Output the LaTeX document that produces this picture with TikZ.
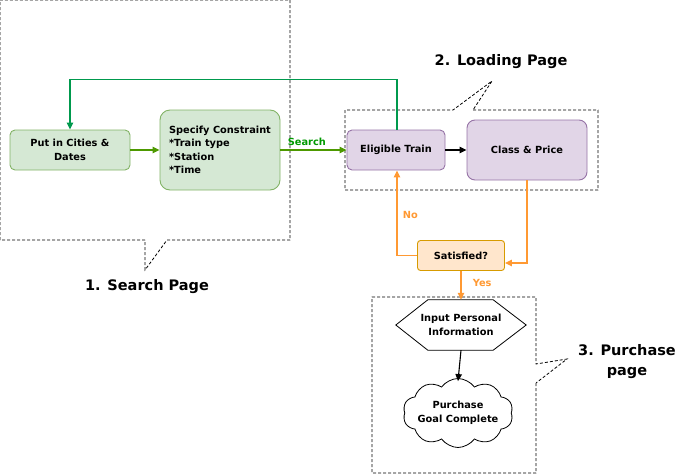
\documentclass[tikz,border=0pt]{standalone}
\usepackage{fontspec}
\setmainfont{DejaVu Sans}
\usetikzlibrary{arrows.meta,shapes.symbols,positioning}
\definecolor{gfill}{HTML}{D5E8D4}
\definecolor{gline}{HTML}{82B366}
\definecolor{pfill}{HTML}{E1D5E7}
\definecolor{pline}{HTML}{9673A6}
\definecolor{ofill}{HTML}{FFE6CC}
\definecolor{oline}{HTML}{D79B00}
\definecolor{oarrow}{HTML}{FF9933}
\definecolor{garrow}{HTML}{4D9900}
\definecolor{gloop}{HTML}{00994D}
\definecolor{gtext}{HTML}{009900}
\tikzset{
  every node/.style={font=\fontsize{9.8}{13.5}\selectfont\bfseries},
  greenbox/.style={draw=gline,fill=gfill,line width=0.9pt,rounded corners=5pt,align=center,inner sep=0pt},
  purplebox/.style={draw=pline,fill=pfill,line width=0.9pt,rounded corners=5pt,align=center,inner sep=0pt},
  orangebox/.style={draw=oline,fill=ofill,line width=0.9pt,rounded corners=3pt,align=center,inner sep=0pt},
  callout/.style={black,line width=0.8pt,dash pattern=on 3pt off 2pt},
  title/.style={font=\fontsize{14.5}{20}\selectfont\bfseries,align=center},
  arr/.style={-{Triangle[length=7pt,width=6.5pt]},line width=1.1pt},
  shapeline/.style={draw,line width=0.8pt},
}
\begin{document}
\begin{tikzpicture}[x=1pt,y=-1pt]
\useasboundingbox (0,0) rectangle (691,474);
% callouts
\draw[callout] (145,240) -- (0,240) -- (0,0) -- (290,0) -- (290,240) -- (167,240) -- (145,270) -- cycle;
\draw[callout] (473,110) -- (598,110) -- (598,190) -- (345,190) -- (345,110) -- (453,110) -- (492,81) -- cycle;
\draw[callout] (536,383) -- (536,473) -- (372,473) -- (372,297) -- (536,297) -- (536,364) -- (567,359) -- cycle;
\node[title] (t1) at (147,287) {1. Search Page};
\node[title] (t2) at (501,62) {2. Loading Page};
\node[title] (t3) at (627,362) {3. Purchase\\page};
% nodes
\node[greenbox,minimum width=120pt,minimum height=40pt] (put) at (70,150) {Put in Cities \&\\Dates};
\node[greenbox,rounded corners=10pt,minimum width=120pt,minimum height=80pt,align=left] (spec) at (220,150) {Specify Constraint\\*Train type\\*Station\\*Time};
\node[purplebox,minimum width=98pt,minimum height=40pt] (elig) at (396,150) {Eligible Train};
\node[purplebox,rounded corners=8pt,minimum width=120pt,minimum height=60pt] (cls) at (527,150) {Class \& Price};
\node[orangebox,minimum width=87pt,minimum height=30pt] (sat) at (461,255.5) {Satisfied?};
% hexagon
\node[minimum width=130pt,minimum height=50pt,inner sep=0pt,align=center] (info) at (461,325) {Input Personal\\Information};
\draw[shapeline] (info.west) -- ([xshift=32pt]info.north west) -- ([xshift=-33pt]info.north east) -- (info.east) -- ([xshift=-33pt]info.south east) -- ([xshift=32pt]info.south west) -- cycle;
% cloud
\node[shapeline,cloud,cloud puffs=10,cloud puff arc=110,aspect=1.6,minimum width=110pt,minimum height=69pt,inner sep=0pt] (goal) at (458,413) {};
\node[align=center] (goaltxt) at (goal.center) {Purchase\\Goal Complete};
% connectors
\draw[arr,color=garrow] (put.east) -- (spec.west);
\draw[arr,color=garrow] (spec.east) -- node[above,text=gtext,pos=0.4] (srch) {Search} (elig.west);
\draw[arr,color=gloop] ([xshift=1pt]elig.north) -- ++(0,-50) -| (put.north);
\draw[arr,color=black] (elig.east) -- (cls.east -| cls.west);
\draw[arr,color=oarrow] (cls.south) |- (sat.east |- 0,263) coordinate (satin);
\draw[arr,color=oarrow] (sat.west) -| node[pos=0.74,right,text=oarrow,xshift=2pt] (no) {No} ([xshift=1pt]elig.south);
\draw[arr,color=oarrow] (sat.south) -- node[right,text=oarrow,xshift=8pt,yshift=2pt] (yes) {Yes} (info.north);
\draw[arr,color=black] (info.south) -- ([yshift=-3pt]goal.north);
\end{tikzpicture}
\end{document}
